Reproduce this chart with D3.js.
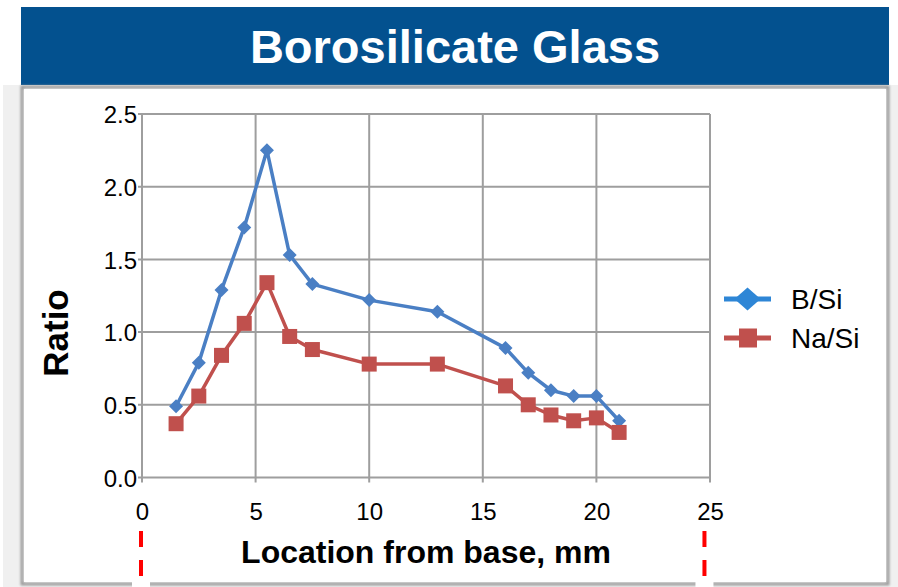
<!DOCTYPE html>
<html>
<head>
<meta charset="utf-8">
<script src="https://cdn.jsdelivr.net/npm/d3@7/dist/d3.min.js"></script>
<style>
  html, body { margin: 0; padding: 0; background: #ffffff; }
  svg { display: block; font-family: "Liberation Sans", Arial, Helvetica, sans-serif; }
</style>
</head>
<body>
<svg id="chart" width="898" height="587"></svg>
<script>
// Sample positions (mm from base)
const locations = [1.5, 2.5, 3.5, 4.5, 5.5, 6.5, 7.5, 10, 13, 16, 17, 18, 19, 20, 21];
// Measured ratios
const boronSilicon = [0.49, 0.79, 1.29, 1.72, 2.25, 1.53, 1.33, 1.22, 1.14, 0.89, 0.72, 0.60, 0.56, 0.56, 0.39];
const sodiumSilicon = [0.37, 0.56, 0.84, 1.06, 1.34, 0.97, 0.88, 0.78, 0.78, 0.63, 0.50, 0.43, 0.39, 0.41, 0.31];
const seriesNames = ["B/Si", "Na/Si"];
const xTicks = [0, 5, 10, 15, 20, 25];
const yTicks = [0.0, 0.5, 1.0, 1.5, 2.0, 2.5];
// Sample boundaries marked below the axis (mm)
const boundaryMarks = [0, 24.8];

const svg = d3.select("#chart");
const W = 898, H = 587;
const FONT = "Liberation Sans, Arial, sans-serif";

const blue = "#4a7fc4", blueKey = "#2e86d6", red = "#c0504d";

// Page backdrop
svg.append("rect").attr("x", 3).attr("y", 85).attr("width", W - 3).attr("height", H - 85).attr("fill", "#f0f0f0");

// Title banner
svg.append("rect").attr("x", 21).attr("y", 7).attr("width", 868).attr("height", 78).attr("fill", "#03518f");
svg.append("text").attr("x", 455).attr("y", 63).attr("text-anchor", "middle")
  .attr("fill", "#ffffff").attr("font-weight", "bold").attr("font-size", 47)
  .text("Borosilicate Glass");

// Chart frame with soft shadow
const defs = svg.append("defs");
const sh = defs.append("filter").attr("id", "soft").attr("x", "-5%").attr("y", "-5%").attr("width", "110%").attr("height", "110%");
sh.append("feGaussianBlur").attr("stdDeviation", 1.2);
svg.append("rect").attr("x", 22).attr("y", 87).attr("width", 866).attr("height", 497)
  .attr("fill", "none").attr("stroke", "#9c9c9c").attr("stroke-width", 3).attr("filter", "url(#soft)");
svg.append("rect").attr("x", 24).attr("y", 89).attr("width", 862).attr("height", 493).attr("fill", "#ffffff");

// Scales
const x = d3.scaleLinear().domain([0, 25]).range([142, 710]);
const y = d3.scaleLinear().domain([0, 2.5]).range([477.5, 114]);

const gridColor = "#9e9e9e";
const g = svg.append("g");

// Gridlines with short outward ticks
g.selectAll("line.vg").data(xTicks).join("line")
  .attr("x1", d => x(d)).attr("x2", d => x(d)).attr("y1", y(2.5)).attr("y2", y(0) + 5)
  .attr("stroke", gridColor).attr("stroke-width", 2);
g.selectAll("line.hg").data(yTicks).join("line")
  .attr("x1", x(0) - 4).attr("x2", x(25)).attr("y1", d => y(d)).attr("y2", d => y(d))
  .attr("stroke", gridColor).attr("stroke-width", 2);

// Tick labels from d3 axes (domain and tick lines removed; grid drawn above)
const yAxis = d3.axisLeft(y).tickValues(yTicks).tickFormat(d3.format(".1f")).tickSize(0).tickPadding(0);
const ya = svg.append("g").attr("transform", `translate(${x(0) - 5},0)`).call(yAxis)
  .attr("font-size", 24).attr("font-family", FONT);
ya.select(".domain").remove();
ya.selectAll("text").attr("fill", "#000").attr("dy", "0.36em");

const xAxis = d3.axisBottom(x).tickValues(xTicks).tickFormat(d3.format("d")).tickSize(0).tickPadding(0);
const xa = svg.append("g").attr("transform", `translate(0,${y(0) + 42})`).call(xAxis)
  .attr("font-size", 24).attr("font-family", FONT);
xa.select(".domain").remove();
xa.selectAll("text").attr("fill", "#000").attr("dy", "0");

// Axis titles
svg.append("text").attr("x", 426).attr("y", 563).attr("text-anchor", "middle")
  .attr("font-weight", "bold").attr("font-size", 32).text("Location from base, mm");
svg.append("text").attr("transform", "translate(68,333) rotate(-90)").attr("text-anchor", "middle")
  .attr("font-weight", "bold").attr("font-size", 35).text("Ratio");

// Series
const bData = locations.map((v, i) => [v, boronSilicon[i]]);
const nData = locations.map((v, i) => [v, sodiumSilicon[i]]);

const line = d3.line().x(d => x(d[0])).y(d => y(d[1]));

svg.append("path").attr("d", line(bData)).attr("fill", "none").attr("stroke", blue)
  .attr("stroke-width", 3.5).attr("stroke-linejoin", "round");
svg.append("path").attr("d", line(nData)).attr("fill", "none").attr("stroke", red)
  .attr("stroke-width", 3.5).attr("stroke-linejoin", "round");

const diamond = (cx, cy, w, h) => `M${cx},${cy - h / 2}L${cx + w / 2},${cy}L${cx},${cy + h / 2}L${cx - w / 2},${cy}Z`;

svg.selectAll("path.bm").data(bData).join("path")
  .attr("d", d => diamond(x(d[0]), y(d[1]), 14, 14)).attr("fill", blue);
svg.selectAll("rect.nm").data(nData).join("rect")
  .attr("x", d => x(d[0]) - 7.5).attr("y", d => y(d[1]) - 7.5).attr("width", 15).attr("height", 15).attr("fill", red);

// Legend
const lg = svg.append("g");
lg.append("line").attr("x1", 724).attr("x2", 771).attr("y1", 299).attr("y2", 299).attr("stroke", blueKey).attr("stroke-width", 5);
lg.append("path").attr("d", diamond(747.5, 299, 26, 23)).attr("fill", blueKey);
lg.append("text").attr("x", 791).attr("y", 309).attr("font-size", 28).text(seriesNames[0]);
lg.append("line").attr("x1", 724).attr("x2", 771).attr("y1", 338).attr("y2", 338).attr("stroke", red).attr("stroke-width", 5);
lg.append("rect").attr("x", 739).attr("y", 328.5).attr("width", 18).attr("height", 19).attr("fill", red);
lg.append("text").attr("x", 791).attr("y", 348).attr("font-size", 28).text(seriesNames[1]);

// Boundary marks below the plot
boundaryMarks.forEach(v => {
  const px = x(v) - 1;
  svg.append("rect").attr("x", px - 9).attr("y", 579).attr("width", 18).attr("height", 8).attr("fill", "#ffffff");
  svg.append("line").attr("x1", px).attr("x2", px).attr("y1", 531).attr("y2", 587)
    .attr("stroke", "#ff0000").attr("stroke-width", 4).attr("stroke-dasharray", "16,13");
});
</script>
</body>
</html>
